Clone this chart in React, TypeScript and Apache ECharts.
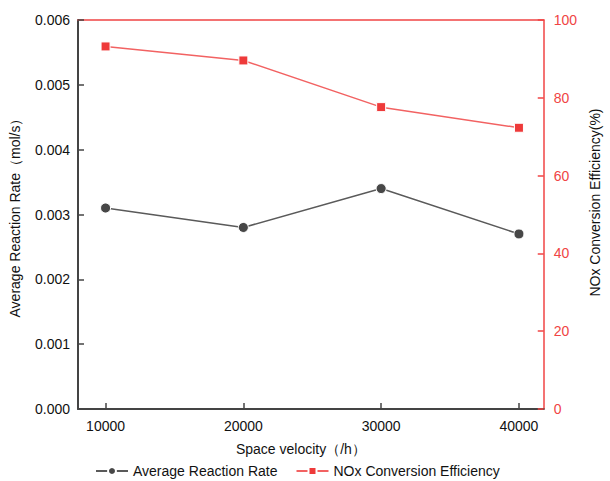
import React, { useEffect, useRef } from "react";
import * as echarts from "echarts";

const spaceVelocity = [10000, 20000, 30000, 40000];
const reactionRate = [0.0031, 0.0028, 0.0034, 0.0027];
const noxEfficiency = [93.2, 89.6, 77.6, 72.3];
const xTicks = [10000, 20000, 30000, 40000];

const FONT = "Liberation Sans, Arial, sans-serif";
const RED = "#f04444";
const DARK = "#444444";

export default function App() {
  const ref = useRef<HTMLDivElement>(null);
  useEffect(() => {
    document.body.style.margin = "0";
    if (!ref.current) return;
    const chart = echarts.init(ref.current, undefined, { renderer: "svg" });
    chart.setOption({
      animation: false,
      textStyle: { fontFamily: FONT },
      grid: { left: 78, right: 55, top: 20, bottom: 72 },
      legend: {
        top: 459,
        left: 90,
        itemWidth: 32,
        itemHeight: 10,
        itemGap: 18,
        textStyle: { fontFamily: FONT, fontSize: 14, color: "#111" },
        data: ["Average Reaction Rate", "NOx Conversion Efficiency"],
      },
      xAxis: [
        {
          type: "value",
          min: 8000,
          max: 41800,
          name: "Space velocity（/h）",
          nameLocation: "middle",
          nameGap: 33,
          nameTextStyle: { fontFamily: FONT, fontSize: 14, color: "#111", padding: [0, 20, 0, 0] },
          axisLine: { onZero: false, lineStyle: { color: DARK, width: 2 } },
          axisTick: { inside: true, length: 6, customValues: xTicks, lineStyle: { color: DARK, width: 1.5 } },
          axisLabel: {
            customValues: xTicks,
            fontFamily: FONT,
            fontSize: 14,
            color: "#111",
            margin: 10,
            formatter: (v: number) => String(v),
          },
          splitLine: { show: false },
        },
        {
          type: "value",
          position: "top",
          min: 8000,
          max: 41800,
          axisLine: { show: true, onZero: false, lineStyle: { color: RED, width: 1.5 } },
          axisTick: { show: false },
          axisLabel: { show: false },
          splitLine: { show: false },
        },
      ],
      yAxis: [
        {
          type: "value",
          min: 0,
          max: 0.006,
          interval: 0.001,
          name: "Average Reaction Rate（mol/s）",
          nameLocation: "middle",
          nameRotate: 90,
          nameGap: 56,
          nameTextStyle: { fontFamily: FONT, fontSize: 14, color: "#111" },
          axisLine: { show: true, onZero: false, lineStyle: { color: DARK, width: 2 } },
          axisTick: { show: true, inside: true, length: 6, lineStyle: { color: DARK, width: 1.5 } },
          axisLabel: {
            fontFamily: FONT,
            fontSize: 14,
            color: "#111",
            margin: 8,
            formatter: (v: number) => v.toFixed(3),
          },
          splitLine: { show: false },
        },
        {
          type: "value",
          position: "right",
          min: 0,
          max: 100,
          interval: 20,
          name: "NOx Conversion Efficiency(%)",
          nameLocation: "middle",
          nameRotate: 90,
          nameGap: 44,
          nameTextStyle: { fontFamily: FONT, fontSize: 14, color: "#111", padding: [0, 0, 0, 24] },
          axisLine: { show: true, onZero: false, lineStyle: { color: RED, width: 1.5 } },
          axisTick: { show: true, inside: true, length: 6, lineStyle: { color: RED, width: 1.5 } },
          axisLabel: { fontFamily: FONT, fontSize: 14, color: RED, margin: 10 },
          splitLine: { show: false },
        },
      ],
      series: [
        {
          name: "Average Reaction Rate",
          type: "line",
          xAxisIndex: 0,
          yAxisIndex: 0,
          data: spaceVelocity.map((x, i) => [x, reactionRate[i]]),
          symbol: "circle",
          symbolSize: 10,
          itemStyle: { color: "#474747", borderColor: "#fff", borderWidth: 1 },
          lineStyle: { color: "#5a5a5a", width: 1.5 },
        },
        {
          name: "NOx Conversion Efficiency",
          type: "line",
          xAxisIndex: 0,
          yAxisIndex: 1,
          data: spaceVelocity.map((x, i) => [x, noxEfficiency[i]]),
          symbol: "rect",
          symbolSize: 9,
          itemStyle: { color: "#ee3a3a", borderColor: "#fff", borderWidth: 1 },
          lineStyle: { color: "#f26262", width: 1.5 },
        },
      ],
    });
    return () => chart.dispose();
  }, []);
  return <div ref={ref} style={{ width: 610, height: 481 }} />;
}
